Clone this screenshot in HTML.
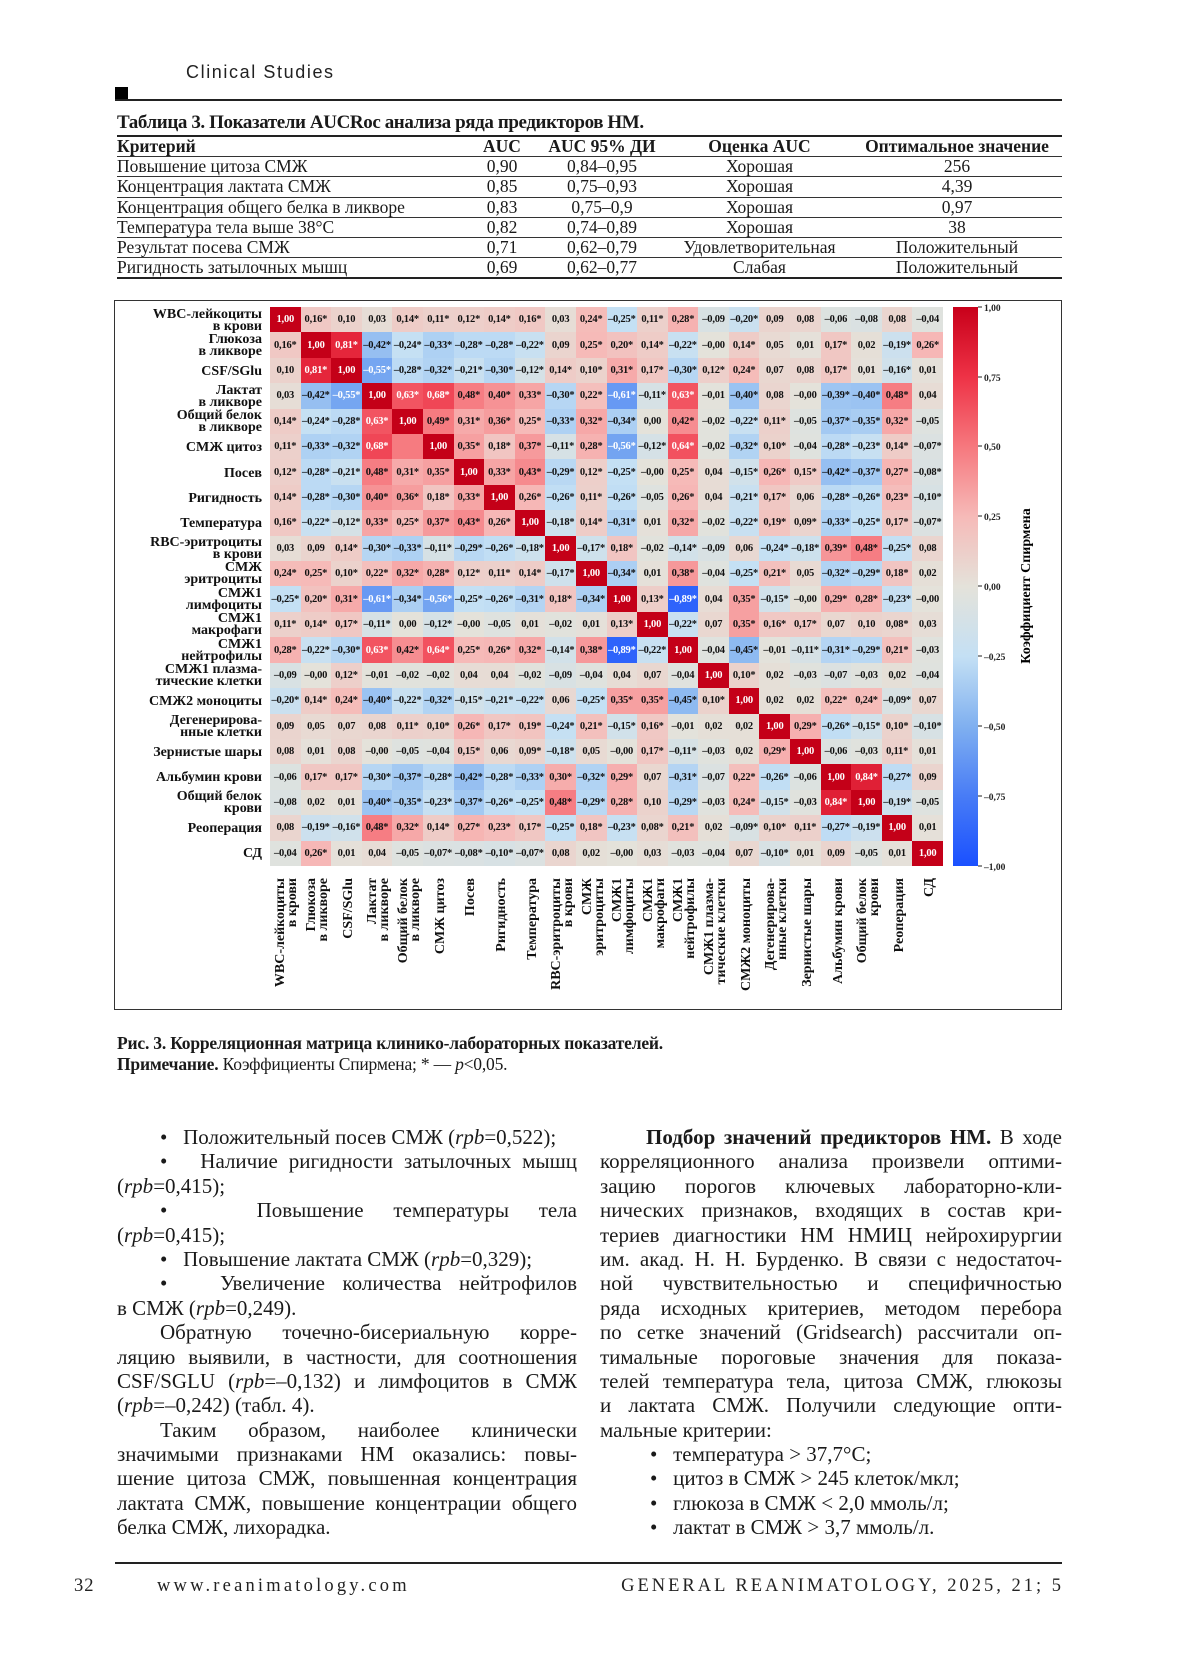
<!DOCTYPE html>
<html><head><meta charset="utf-8">
<style>
*{margin:0;padding:0;box-sizing:border-box}
body{width:1200px;height:1656px;background:#fff;position:relative;overflow:hidden;font-family:"Liberation Serif","Noto Serif CJK SC",serif;color:#1a1a1a}
.abs{position:absolute}
.hdr{left:186px;top:62px;font-family:"Liberation Sans",sans-serif;font-size:18px;letter-spacing:1.6px;color:#222}
.sq{left:115px;top:87px;width:13px;height:13px;background:#000}
.hl{left:115px;top:99px;width:947px;height:2px;background:#222}
.ttl{left:117px;top:112px;font-weight:bold;font-size:19px;letter-spacing:-0.4px}
table.t{position:absolute;left:117px;top:135px;width:945px;border-collapse:collapse;font-size:17.5px}
table.t td,table.t th{height:20.3px;line-height:19px;padding:0;border-bottom:1px solid #333}
table.t th{font-weight:bold;text-align:center;border-top:2px solid #222}
table.t tr:last-child td{border-bottom:2px solid #222}
table.t td{text-align:center}
table.t td:first-child,table.t th:first-child{text-align:left}
.fig{left:114px;top:300px;width:948px;height:710px;border:1.5px solid #333}
.m{position:absolute;left:270px;top:307px;width:673px;height:559px;display:grid;grid-template-columns:repeat(22,1fr);grid-template-rows:repeat(22,1fr)}
.m b{display:flex;align-items:center;justify-content:center;font-size:10.5px;font-weight:bold;color:#111;white-space:nowrap;letter-spacing:-0.2px}
.cap{left:117px;font-size:17.5px;letter-spacing:-0.2px}
.col{position:absolute;font-size:21px;line-height:24.4px}
.col div{height:24.4px;white-space:nowrap}
.j{text-align:justify;text-align-last:justify}
.ft{top:1576px;font-size:18.5px;letter-spacing:3.2px;color:#222}
</style></head><body>
<div class="abs hdr">Clinical Studies</div>
<div class="abs sq"></div>
<div class="abs hl"></div>
<div class="abs ttl">Таблица 3. Показатели AUCRoc анализа ряда предикторов НМ.</div>
<table class="t">
<tr><th style="width:350px">Критерий</th><th style="width:70px">AUC</th><th style="width:130px">AUC 95% ДИ</th><th style="width:185px">Оценка AUC</th><th>Оптимальное значение</th></tr>
<tr><td>Повышение цитоза СМЖ</td><td>0,90</td><td>0,84–0,95</td><td>Хорошая</td><td>256</td></tr>
<tr><td>Концентрация лактата СМЖ</td><td>0,85</td><td>0,75–0,93</td><td>Хорошая</td><td>4,39</td></tr>
<tr><td>Концентрация общего белка в ликворе</td><td>0,83</td><td>0,75–0,9</td><td>Хорошая</td><td>0,97</td></tr>
<tr><td>Температура тела выше 38°C</td><td>0,82</td><td>0,74–0,89</td><td>Хорошая</td><td>38</td></tr>
<tr><td>Результат посева СМЖ</td><td>0,71</td><td>0,62–0,79</td><td>Удовлетворительная</td><td>Положительный</td></tr>
<tr><td>Ригидность затылочных мышц</td><td>0,69</td><td>0,62–0,77</td><td>Слабая</td><td>Положительный</td></tr>
</table>

<div class="abs fig"></div>

<div class="m">
<b>1,00</b><b>0,16*</b><b>0,10</b><b>0,03</b><b>0,14*</b><b>0,11*</b><b>0,12*</b><b>0,14*</b><b>0,16*</b><b>0,03</b><b>0,24*</b><b>–0,25*</b><b>0,11*</b><b>0,28*</b><b>–0,09</b><b>–0,20*</b><b>0,09</b><b>0,08</b><b>–0,06</b><b>–0,08</b><b>0,08</b><b>–0,04</b>
<b>0,16*</b><b>1,00</b><b>0,81*</b><b>–0,42*</b><b>–0,24*</b><b>–0,33*</b><b>–0,28*</b><b>–0,28*</b><b>–0,22*</b><b>0,09</b><b>0,25*</b><b>0,20*</b><b>0,14*</b><b>–0,22*</b><b>–0,00</b><b>0,14*</b><b>0,05</b><b>0,01</b><b>0,17*</b><b>0,02</b><b>–0,19*</b><b>0,26*</b>
<b>0,10</b><b>0,81*</b><b>1,00</b><b>–0,55*</b><b>–0,28*</b><b>–0,32*</b><b>–0,21*</b><b>–0,30*</b><b>–0,12*</b><b>0,14*</b><b>0,10*</b><b>0,31*</b><b>0,17*</b><b>–0,30*</b><b>0,12*</b><b>0,24*</b><b>0,07</b><b>0,08</b><b>0,17*</b><b>0,01</b><b>–0,16*</b><b>0,01</b>
<b>0,03</b><b>–0,42*</b><b>–0,55*</b><b>1,00</b><b>0,63*</b><b>0,68*</b><b>0,48*</b><b>0,40*</b><b>0,33*</b><b>–0,30*</b><b>0,22*</b><b>–0,61*</b><b>–0,11*</b><b>0,63*</b><b>–0,01</b><b>–0,40*</b><b>0,08</b><b>–0,00</b><b>–0,39*</b><b>–0,40*</b><b>0,48*</b><b>0,04</b>
<b>0,14*</b><b>–0,24*</b><b>–0,28*</b><b>0,63*</b><b>1,00</b><b>0,49*</b><b>0,31*</b><b>0,36*</b><b>0,25*</b><b>–0,33*</b><b>0,32*</b><b>–0,34*</b><b>0,00</b><b>0,42*</b><b>–0,02</b><b>–0,22*</b><b>0,11*</b><b>–0,05</b><b>–0,37*</b><b>–0,35*</b><b>0,32*</b><b>–0,05</b>
<b>0,11*</b><b>–0,33*</b><b>–0,32*</b><b>0,68*</b><b data-v="0.49"></b><b>1,00</b><b>0,35*</b><b>0,18*</b><b>0,37*</b><b>–0,11*</b><b>0,28*</b><b>–0,56*</b><b>–0,12*</b><b>0,64*</b><b>–0,02</b><b>–0,32*</b><b>0,10*</b><b>–0,04</b><b>–0,28*</b><b>–0,23*</b><b>0,14*</b><b>–0,07*</b>
<b>0,12*</b><b>–0,28*</b><b>–0,21*</b><b>0,48*</b><b>0,31*</b><b>0,35*</b><b>1,00</b><b>0,33*</b><b>0,43*</b><b>–0,29*</b><b>0,12*</b><b>–0,25*</b><b>–0,00</b><b>0,25*</b><b>0,04</b><b>–0,15*</b><b>0,26*</b><b>0,15*</b><b>–0,42*</b><b>–0,37*</b><b>0,27*</b><b>–0,08*</b>
<b>0,14*</b><b>–0,28*</b><b>–0,30*</b><b>0,40*</b><b>0,36*</b><b>0,18*</b><b>0,33*</b><b>1,00</b><b>0,26*</b><b>–0,26*</b><b>0,11*</b><b>–0,26*</b><b>–0,05</b><b>0,26*</b><b>0,04</b><b>–0,21*</b><b>0,17*</b><b>0,06</b><b>–0,28*</b><b>–0,26*</b><b>0,23*</b><b>–0,10*</b>
<b>0,16*</b><b>–0,22*</b><b>–0,12*</b><b>0,33*</b><b>0,25*</b><b>0,37*</b><b>0,43*</b><b>0,26*</b><b>1,00</b><b>–0,18*</b><b>0,14*</b><b>–0,31*</b><b>0,01</b><b>0,32*</b><b>–0,02</b><b>–0,22*</b><b>0,19*</b><b>0,09*</b><b>–0,33*</b><b>–0,25*</b><b>0,17*</b><b>–0,07*</b>
<b>0,03</b><b>0,09</b><b>0,14*</b><b>–0,30*</b><b>–0,33*</b><b>–0,11*</b><b>–0,29*</b><b>–0,26*</b><b>–0,18*</b><b>1,00</b><b>–0,17*</b><b>0,18*</b><b>–0,02</b><b>–0,14*</b><b>–0,09</b><b>0,06</b><b>–0,24*</b><b>–0,18*</b><b>0,39*</b><b>0,48*</b><b>–0,25*</b><b>0,08</b>
<b>0,24*</b><b>0,25*</b><b>0,10*</b><b>0,22*</b><b>0,32*</b><b>0,28*</b><b>0,12*</b><b>0,11*</b><b>0,14*</b><b>–0,17*</b><b>1,00</b><b>–0,34*</b><b>0,01</b><b>0,38*</b><b>–0,04</b><b>–0,25*</b><b>0,21*</b><b>0,05</b><b>–0,32*</b><b>–0,29*</b><b>0,18*</b><b>0,02</b>
<b>–0,25*</b><b>0,20*</b><b>0,31*</b><b>–0,61*</b><b>–0,34*</b><b>–0,56*</b><b>–0,25*</b><b>–0,26*</b><b>–0,31*</b><b>0,18*</b><b>–0,34*</b><b>1,00</b><b>0,13*</b><b>–0,89*</b><b>0,04</b><b>0,35*</b><b>–0,15*</b><b>–0,00</b><b>0,29*</b><b>0,28*</b><b>–0,23*</b><b>–0,00</b>
<b>0,11*</b><b>0,14*</b><b>0,17*</b><b>–0,11*</b><b>0,00</b><b>–0,12*</b><b>–0,00</b><b>–0,05</b><b>0,01</b><b>–0,02</b><b>0,01</b><b>0,13*</b><b>1,00</b><b>–0,22*</b><b>0,07</b><b>0,35*</b><b>0,16*</b><b>0,17*</b><b>0,07</b><b>0,10</b><b>0,08*</b><b>0,03</b>
<b>0,28*</b><b>–0,22*</b><b>–0,30*</b><b>0,63*</b><b>0,42*</b><b>0,64*</b><b>0,25*</b><b>0,26*</b><b>0,32*</b><b>–0,14*</b><b>0,38*</b><b>–0,89*</b><b>–0,22*</b><b>1,00</b><b>–0,04</b><b>–0,45*</b><b>–0,01</b><b>–0,11*</b><b>–0,31*</b><b>–0,29*</b><b>0,21*</b><b>–0,03</b>
<b>–0,09</b><b>–0,00</b><b>0,12*</b><b>–0,01</b><b>–0,02</b><b>–0,02</b><b>0,04</b><b>0,04</b><b>–0,02</b><b>–0,09</b><b>–0,04</b><b>0,04</b><b>0,07</b><b>–0,04</b><b>1,00</b><b>0,10*</b><b>0,02</b><b>–0,03</b><b>–0,07</b><b>–0,03</b><b>0,02</b><b>–0,04</b>
<b>–0,20*</b><b>0,14*</b><b>0,24*</b><b>–0,40*</b><b>–0,22*</b><b>–0,32*</b><b>–0,15*</b><b>–0,21*</b><b>–0,22*</b><b>0,06</b><b>–0,25*</b><b>0,35*</b><b>0,35*</b><b>–0,45*</b><b>0,10*</b><b>1,00</b><b>0,02</b><b>0,02</b><b>0,22*</b><b>0,24*</b><b>–0,09*</b><b>0,07</b>
<b>0,09</b><b>0,05</b><b>0,07</b><b>0,08</b><b>0,11*</b><b>0,10*</b><b>0,26*</b><b>0,17*</b><b>0,19*</b><b>–0,24*</b><b>0,21*</b><b>–0,15*</b><b>0,16*</b><b>–0,01</b><b>0,02</b><b>0,02</b><b>1,00</b><b>0,29*</b><b>–0,26*</b><b>–0,15*</b><b>0,10*</b><b>–0,10*</b>
<b>0,08</b><b>0,01</b><b>0,08</b><b>–0,00</b><b>–0,05</b><b>–0,04</b><b>0,15*</b><b>0,06</b><b>0,09*</b><b>–0,18*</b><b>0,05</b><b>–0,00</b><b>0,17*</b><b>–0,11*</b><b>–0,03</b><b>0,02</b><b>0,29*</b><b>1,00</b><b>–0,06</b><b>–0,03</b><b>0,11*</b><b>0,01</b>
<b>–0,06</b><b>0,17*</b><b>0,17*</b><b>–0,30*</b><b>–0,37*</b><b>–0,28*</b><b>–0,42*</b><b>–0,28*</b><b>–0,33*</b><b>0,30*</b><b>–0,32*</b><b>0,29*</b><b>0,07</b><b>–0,31*</b><b>–0,07</b><b>0,22*</b><b>–0,26*</b><b>–0,06</b><b>1,00</b><b>0,84*</b><b>–0,27*</b><b>0,09</b>
<b>–0,08</b><b>0,02</b><b>0,01</b><b>–0,40*</b><b>–0,35*</b><b>–0,23*</b><b>–0,37*</b><b>–0,26*</b><b>–0,25*</b><b>0,48*</b><b>–0,29*</b><b>0,28*</b><b>0,10</b><b>–0,29*</b><b>–0,03</b><b>0,24*</b><b>–0,15*</b><b>–0,03</b><b>0,84*</b><b>1,00</b><b>–0,19*</b><b>–0,05</b>
<b>0,08</b><b>–0,19*</b><b>–0,16*</b><b>0,48*</b><b>0,32*</b><b>0,14*</b><b>0,27*</b><b>0,23*</b><b>0,17*</b><b>–0,25*</b><b>0,18*</b><b>–0,23*</b><b>0,08*</b><b>0,21*</b><b>0,02</b><b>–0,09*</b><b>0,10*</b><b>0,11*</b><b>–0,27*</b><b>–0,19*</b><b>1,00</b><b>0,01</b>
<b>–0,04</b><b>0,26*</b><b>0,01</b><b>0,04</b><b>–0,05</b><b>–0,07*</b><b>–0,08*</b><b>–0,10*</b><b>–0,07*</b><b>0,08</b><b>0,02</b><b>–0,00</b><b>0,03</b><b>–0,03</b><b>–0,04</b><b>0,07</b><b>–0,10*</b><b>0,01</b><b>0,09</b><b>–0,05</b><b>0,01</b><b>1,00</b>
</div>

<svg class="abs" style="left:0;top:0" width="1200" height="1656" font-family="Liberation Serif, serif" font-weight="bold">
<defs><linearGradient id="cb" x1="0" y1="0" x2="0" y2="1">
<stop offset="0" stop-color="rgb(200,0,26)"/><stop offset="0.125" stop-color="rgb(238,50,70)"/><stop offset="0.25" stop-color="rgb(246,120,126)"/><stop offset="0.375" stop-color="rgb(246,186,184)"/><stop offset="0.5" stop-color="rgb(228,226,218)"/><stop offset="0.625" stop-color="rgb(196,224,244)"/><stop offset="0.75" stop-color="rgb(128,176,240)"/><stop offset="0.875" stop-color="rgb(72,124,246)"/><stop offset="1" stop-color="rgb(26,80,255)"/>
</linearGradient></defs>
<rect x="953" y="307" width="25" height="559" fill="url(#cb)"/>
<g stroke="#222" stroke-width="1">
<line x1="978" y1="307" x2="982" y2="307"/><line x1="978" y1="377" x2="982" y2="377"/><line x1="978" y1="446" x2="982" y2="446"/><line x1="978" y1="516" x2="982" y2="516"/><line x1="978" y1="586" x2="982" y2="586"/><line x1="978" y1="656" x2="982" y2="656"/><line x1="978" y1="726" x2="982" y2="726"/><line x1="978" y1="796" x2="982" y2="796"/><line x1="978" y1="866" x2="982" y2="866"/>
</g>
<g font-size="9.5" fill="#222">
<text x="984" y="311">1,00</text><text x="984" y="381">0,75</text><text x="984" y="450">0,50</text><text x="984" y="520">0,25</text><text x="984" y="590">0,00</text><text x="984" y="660">–0,25</text><text x="984" y="730">–0,50</text><text x="984" y="800">–0,75</text><text x="984" y="870">–1,00</text>
</g>
<text transform="translate(1030,586) rotate(-90)" text-anchor="middle" font-size="14">Коэффициент Спирмена</text>

<g font-size="14" text-anchor="end" fill="#111">
<text x="262" y="318">WBC-лейкоциты</text><text x="262" y="330">в крови</text>
<text x="262" y="343">Глюкоза</text><text x="262" y="355">в ликворе</text>
<text x="262" y="375">CSF/SGlu</text>
<text x="262" y="394">Лактат</text><text x="262" y="406">в ликворе</text>
<text x="262" y="419">Общий белок</text><text x="262" y="431">в ликворе</text>
<text x="262" y="451">СМЖ цитоз</text>
<text x="262" y="477">Посев</text>
<text x="262" y="502">Ригидность</text>
<text x="262" y="527">Температура</text>
<text x="262" y="546">RBC-эритроциты</text><text x="262" y="558">в крови</text>
<text x="262" y="571">СМЖ</text><text x="262" y="583">эритроциты</text>
<text x="262" y="597">СМЖ1</text><text x="262" y="609">лимфоциты</text>
<text x="262" y="622">СМЖ1</text><text x="262" y="634">макрофаги</text>
<text x="262" y="648">СМЖ1</text><text x="262" y="660">нейтрофилы</text>
<text x="262" y="673">СМЖ1 плазма-</text><text x="262" y="685">тические клетки</text>
<text x="262" y="705">СМЖ2 моноциты</text>
<text x="262" y="724">Дегенерирова-</text><text x="262" y="736">нные клетки</text>
<text x="262" y="756">Зернистые шары</text>
<text x="262" y="781">Альбумин крови</text>
<text x="262" y="800">Общий белок</text><text x="262" y="812">крови</text>
<text x="262" y="832">Реоперация</text>
<text x="262" y="857">СД</text>
</g>
<g font-size="14" text-anchor="end" fill="#111">
<text transform="translate(284,878) rotate(-90)">WBC-лейкоциты</text><text transform="translate(296,878) rotate(-90)">в крови</text>
<text transform="translate(315,878) rotate(-90)">Глюкоза</text><text transform="translate(327,878) rotate(-90)">в ликворе</text>
<text transform="translate(352,878) rotate(-90)">CSF/SGlu</text>
<text transform="translate(376,878) rotate(-90)">Лактат</text><text transform="translate(388,878) rotate(-90)">в ликворе</text>
<text transform="translate(407,878) rotate(-90)">Общий белок</text><text transform="translate(419,878) rotate(-90)">в ликворе</text>
<text transform="translate(444,878) rotate(-90)">СМЖ цитоз</text>
<text transform="translate(474,878) rotate(-90)">Посев</text>
<text transform="translate(505,878) rotate(-90)">Ригидность</text>
<text transform="translate(536,878) rotate(-90)">Температура</text>
<text transform="translate(560,878) rotate(-90)">RBC-эритроциты</text><text transform="translate(572,878) rotate(-90)">в крови</text>
<text transform="translate(591,878) rotate(-90)">СМЖ</text><text transform="translate(603,878) rotate(-90)">эритроциты</text>
<text transform="translate(621,878) rotate(-90)">СМЖ1</text><text transform="translate(633,878) rotate(-90)">лимфоциты</text>
<text transform="translate(652,878) rotate(-90)">СМЖ1</text><text transform="translate(664,878) rotate(-90)">макрофаги</text>
<text transform="translate(682,878) rotate(-90)">СМЖ1</text><text transform="translate(694,878) rotate(-90)">нейтрофилы</text>
<text transform="translate(713,878) rotate(-90)">СМЖ1 плазма-</text><text transform="translate(725,878) rotate(-90)">тические клетки</text>
<text transform="translate(750,878) rotate(-90)">СМЖ2 моноциты</text>
<text transform="translate(774,878) rotate(-90)">Дегенерирова-</text><text transform="translate(786,878) rotate(-90)">нные клетки</text>
<text transform="translate(811,878) rotate(-90)">Зернистые шары</text>
<text transform="translate(842,878) rotate(-90)">Альбумин крови</text>
<text transform="translate(866,878) rotate(-90)">Общий белок</text><text transform="translate(878,878) rotate(-90)">крови</text>
<text transform="translate(903,878) rotate(-90)">Реоперация</text>
<text transform="translate(933,878) rotate(-90)">СД</text>
</g>
</svg>

<div class="abs cap" style="top:1033px;font-weight:bold">Рис. 3. Корреляционная матрица клинико-лабораторных показателей.</div>
<div class="abs cap" style="top:1054px"><b>Примечание.</b> Коэффициенты Спирмена; * — <i>p</i>&lt;0,05.</div>

<div class="col" style="left:117px;top:1125px;width:460px">
<div style="padding-left:43px">•&nbsp;&nbsp;&nbsp;Положительный посев СМЖ (<i>rpb</i>=0,522);</div>
<div class="j" style="padding-left:43px">•&nbsp;&nbsp;&nbsp;Наличие ригидности затылочных мышц</div>
<div>(<i>rpb</i>=0,415);</div>
<div class="j" style="padding-left:43px">•&nbsp;&nbsp;&nbsp;Повышение температуры тела</div>
<div>(<i>rpb</i>=0,415);</div>
<div style="padding-left:43px">•&nbsp;&nbsp;&nbsp;Повышение лактата СМЖ (<i>rpb</i>=0,329);</div>
<div class="j" style="padding-left:43px">•&nbsp;&nbsp;&nbsp;Увеличение количества нейтрофилов</div>
<div>в СМЖ (<i>rpb</i>=0,249).</div>
<div class="j" style="padding-left:43px">Обратную точечно-бисериальную корре-</div>
<div class="j">ляцию выявили, в частности, для соотношения</div>
<div class="j">CSF/SGLU (<i>rpb</i>=–0,132) и лимфоцитов в СМЖ</div>
<div>(<i>rpb</i>=–0,242) (табл. 4).</div>
<div class="j" style="padding-left:43px">Таким образом, наиболее клинически</div>
<div class="j">значимыми признаками НМ оказались: повы-</div>
<div class="j">шение цитоза СМЖ, повышенная концентрация</div>
<div class="j">лактата СМЖ, повышение концентрации общего</div>
<div>белка СМЖ, лихорадка.</div>
</div>

<div class="col" style="left:600px;top:1125px;width:462px">
<div class="j" style="padding-left:46px"><b>Подбор значений предикторов НМ.</b> В ходе</div>
<div class="j">корреляционного анализа произвели оптими-</div>
<div class="j">зацию порогов ключевых лабораторно-кли-</div>
<div class="j">нических признаков, входящих в состав кри-</div>
<div class="j">териев диагностики НМ НМИЦ нейрохирургии</div>
<div class="j">им. акад. Н. Н. Бурденко. В связи с недостаточ-</div>
<div class="j">ной чувствительностью и специфичностью</div>
<div class="j">ряда исходных критериев, методом перебора</div>
<div class="j">по сетке значений (Gridsearch) рассчитали оп-</div>
<div class="j">тимальные пороговые значения для показа-</div>
<div class="j">телей температура тела, цитоза СМЖ, глюкозы</div>
<div class="j">и лактата СМЖ. Получили следующие опти-</div>
<div>мальные критерии:</div>
<div style="padding-left:50px">•&nbsp;&nbsp;&nbsp;температура &gt; 37,7°C;</div>
<div style="padding-left:50px">•&nbsp;&nbsp;&nbsp;цитоз в СМЖ &gt; 245 клеток/мкл;</div>
<div style="padding-left:50px">•&nbsp;&nbsp;&nbsp;глюкоза в СМЖ &lt; 2,0 ммоль/л;</div>
<div style="padding-left:50px">•&nbsp;&nbsp;&nbsp;лактат в СМЖ &gt; 3,7 ммоль/л.</div>
</div>

<div class="abs" style="left:115px;top:1562px;width:947px;height:2px;background:#222"></div>
<div class="abs ft" style="left:74px;letter-spacing:1px">32</div>
<div class="abs ft" style="left:157px">www.reanimatology.com</div>
<div class="abs ft" style="right:136px;letter-spacing:3px">GENERAL REANIMATOLOGY, 2025, 21; 5</div>

<script>
(function(){
var st=[[1,[200,0,26]],[0.75,[238,50,70]],[0.5,[246,120,126]],[0.25,[246,186,184]],[0,[228,226,218]],[-0.25,[196,224,244]],[-0.5,[128,176,240]],[-0.75,[72,124,246]],[-1,[26,80,255]]];
function col(v){for(var i=0;i<st.length-1;i++){var a=st[i],b=st[i+1];if(v<=a[0]&&v>=b[0]){var t=(a[0]-v)/(a[0]-b[0]);return 'rgb('+[0,1,2].map(function(k){return Math.round(a[1][k]+(b[1][k]-a[1][k])*t)}).join(',')+')';}}return 'rgb(228,226,218)';}
var cells=document.querySelectorAll('.m b');
for(var i=0;i<cells.length;i++){var b=cells[i];var s=b.getAttribute('data-v')||b.textContent.replace('–','-').replace(',','.').replace('*','');var v=parseFloat(s);
if(v>=0.999){b.style.background='rgb(196,0,24)';b.style.color='#fff';}else{b.style.background=col(v);if(Math.abs(v)>=0.55)b.style.color='#fff';}}
})();
</script>
</body></html>
